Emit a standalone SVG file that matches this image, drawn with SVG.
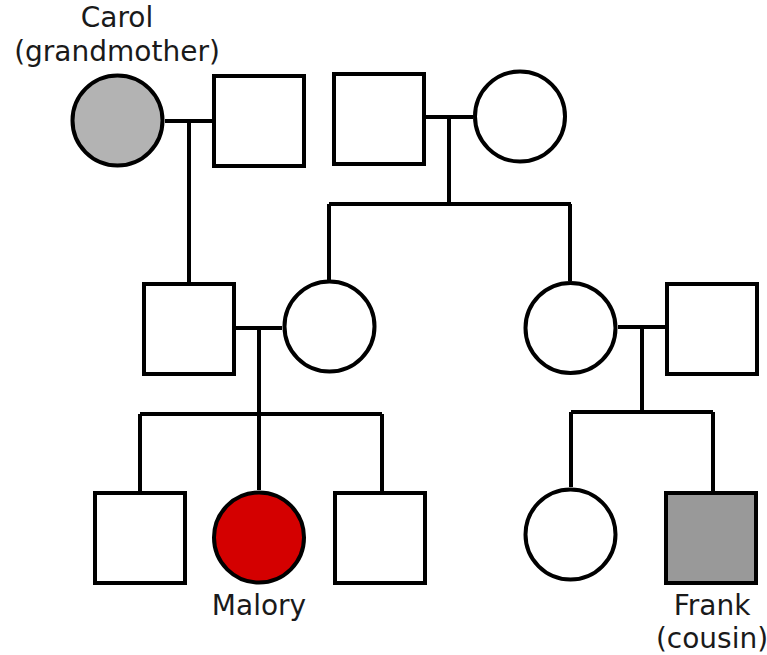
<svg xmlns="http://www.w3.org/2000/svg" width="767" height="655" viewBox="0 0 767 655">
<style>
.n{stroke:#000;stroke-width:4;fill:#fff}
.c{stroke:#000;stroke-width:4;fill:none;stroke-linecap:butt}
.t{font-family:"DejaVu Sans",sans-serif;font-size:28px;fill:#1a1a1a;text-anchor:middle}
</style>
<rect width="767" height="655" fill="#fff"/>
<g id="connectors" class="c">
<path d="M165 121H212M189 121V284"/>
<path d="M426 117H473M449 117V204M329 204H571M329 204V281M570 204V281"/>
<path d="M236 328H282M259 328V414M140 414H382M140 414V493M259 414V490M382 414V493"/>
<path d="M618 327H665M642 327V412M571 412H713M571 412V487M713 412V493"/>
</g>
<g id="carol"><circle class="n" cx="117.5" cy="120.5" r="45" fill="#b3b3b3" style="fill:#b3b3b3"/><text class="t" x="117" y="27">Carol</text><text class="t" x="117" y="61">(grandmother)</text></g>
<g id="grandfather1"><rect class="n" x="214" y="76" width="90" height="90"/></g>
<g id="grandfather2"><rect class="n" x="334" y="74" width="90" height="90"/></g>
<g id="grandmother2"><circle class="n" cx="520" cy="116.5" r="45"/></g>
<g id="father"><rect class="n" x="144" y="284" width="90" height="90"/></g>
<g id="mother"><circle class="n" cx="329.5" cy="326.5" r="45"/></g>
<g id="aunt"><circle class="n" cx="570.5" cy="328" r="45"/></g>
<g id="uncle"><rect class="n" x="667" y="284" width="90" height="90"/></g>
<g id="brother1"><rect class="n" x="95" y="493" width="90" height="90"/></g>
<g id="malory"><circle class="n" cx="259" cy="537.5" r="45" style="fill:#d40000"/><text class="t" x="259" y="615">Malory</text></g>
<g id="brother2"><rect class="n" x="335" y="493" width="90" height="90"/></g>
<g id="cousin1"><circle class="n" cx="570.5" cy="534.5" r="45"/></g>
<g id="frank"><rect class="n" x="666" y="493" width="90" height="90" style="fill:#999"/><text class="t" x="712" y="615">Frank</text><text class="t" x="712" y="648">(cousin)</text></g>
</svg>
